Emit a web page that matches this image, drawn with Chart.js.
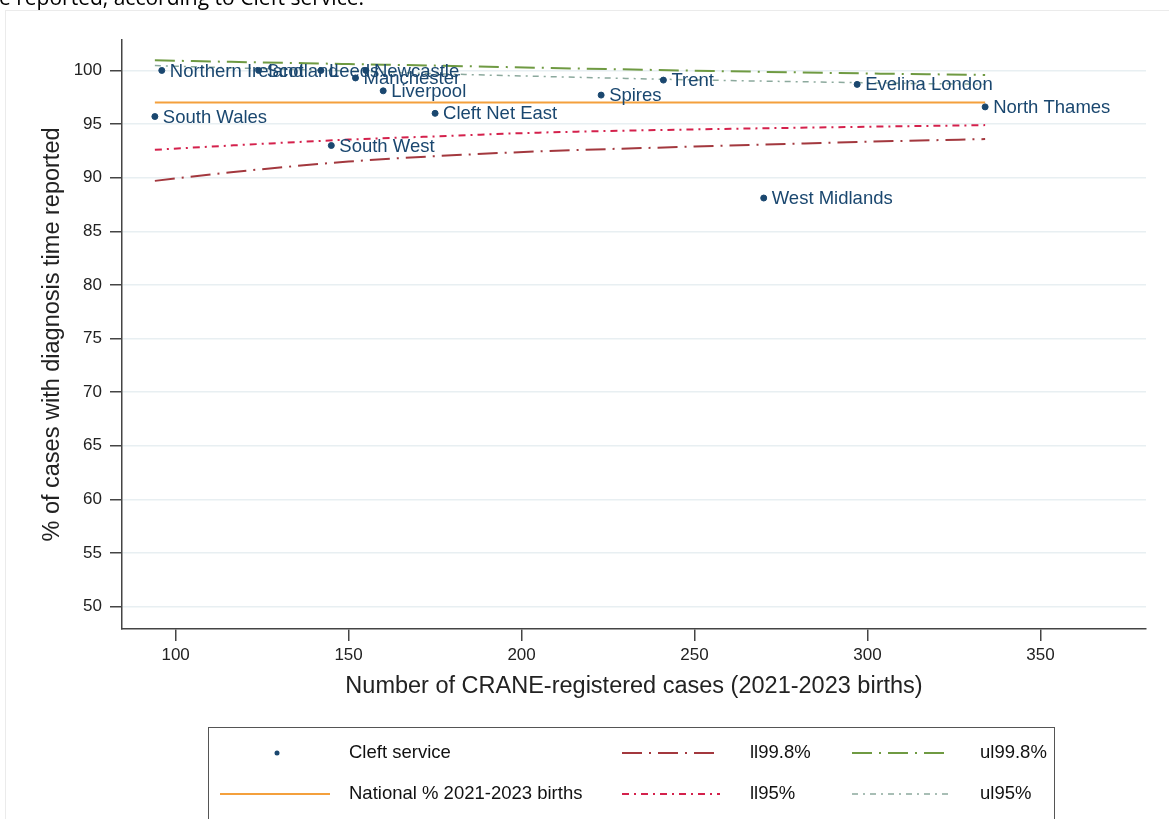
<!DOCTYPE html>
<html>
<head>
<meta charset="utf-8">
<title>Diagnosis time reported, by cleft service</title>
<script src="https://cdn.jsdelivr.net/npm/chart.js@4.4.1/dist/chart.umd.min.js"></script>
<style>
  html, body { margin: 0; padding: 0; background: #fff; overflow: hidden; }
  #wrap { position: relative; width: 1169px; height: 819px; overflow: hidden; }
  #frame { position: absolute; left: 5px; top: 10px; width: 1200px; height: 900px; border: 1px solid #ebebeb; }
  #caption { position: absolute; left: -1px; top: -17px; font: 21px "Open Sans", sans-serif; color: #000; white-space: nowrap; }
  canvas { position: absolute; left: 0; top: 0; }
</style>
</head>
<body>
<div id="wrap">
  <div id="frame"></div>
  <canvas id="funnelChart" width="1169" height="819"></canvas>
  <div id="caption">e reported, according to Cleft service.</div>
</div>
<script>
// cleft services: registered cases and % with diagnosis time reported
const services = ['Northern Ireland', 'Scotland', 'Leeds', 'Newcastle', 'Manchester', 'Liverpool',
                  'South Wales', 'Cleft Net East', 'South West', 'Spires', 'Trent',
                  'Evelina London', 'North Thames', 'West Midlands'];
const cases = [96, 124, 142, 155, 152, 160, 94, 175, 145, 223, 241, 297, 334, 270];
const pctReported = [100, 100, 100, 100, 99.3, 98.1, 95.7, 96.0, 93.0, 97.7, 99.1, 98.7, 96.6, 88.1];

// national proportion, drawn across the range of services
const nationalX = [94, 334];
const nationalPct = [97.0, 97.0];

// control limits
const limitX = [94, 116, 150, 175, 205, 250, 300, 334];
const ll998 = [89.7, 90.5, 91.5, 92.0, 92.45, 92.9, 93.35, 93.6];
const ul998 = [100.95, 100.8, 100.6, 100.45, 100.25, 99.98, 99.72, 99.58];
const ll95 = [92.6, 93.0, 93.55, 93.85, 94.2, 94.5, 94.75, 94.9];
const ul95 = [100.45, 100.25, 99.95, 99.7, 99.45, 99.12, 98.85, 98.7];

const xTicks = [100, 150, 200, 250, 300, 350];
const yTicks = [50, 55, 60, 65, 70, 75, 80, 85, 90, 95, 100];

const FONT = 'Arial, "Liberation Sans", Helvetica, sans-serif';
const navy = '#1a476f';

const toPoints = (xs, ys) => xs.map((x, i) => ({ x: x, y: ys[i] }));

function limitLine(label, ys, color, dash, width) {
    return {
        label: label,
        data: toPoints(limitX, ys),
        showLine: true,
        borderColor: color,
        borderWidth: width,
        borderDash: dash,
        pointRadius: 0,
        cubicInterpolationMode: 'monotone',
        fill: false
    };
}

const datasets = [
    {
        label: 'Cleft service',
        data: toPoints(cases, pctReported),
        backgroundColor: navy,
        borderColor: navy,
        pointRadius: 3,
        showLine: false
    },
    {
        label: 'National % 2021-2023 births',
        data: toPoints(nationalX, nationalPct),
        showLine: true,
        borderColor: '#f4a03c',
        borderWidth: 2,
        pointRadius: 0
    },
    limitLine('ll99.8%', ll998, '#a3383e', [20, 7, 2, 7], 2),
    limitLine('ul99.8%', ul998, '#6f9a42', [20, 7, 2, 7], 2),
    limitLine('ll95%', ll95, '#d4214c', [7, 5, 2, 5], 2),
    limitLine('ul95%', ul95, '#8ca99d', [6, 5, 2, 5], 1.5)
];

// service names to the right of each dot
const pointLabels = {
    id: 'pointLabels',
    afterDatasetsDraw(chart) {
        const ctx = chart.ctx;
        const meta = chart.getDatasetMeta(0);
        ctx.save();
        ctx.font = '18.5px ' + FONT;
        ctx.fillStyle = navy;
        ctx.textBaseline = 'middle';
        meta.data.forEach((pt, i) => {
            ctx.fillText(services[i], pt.x + 8, pt.y + 1);
        });
        ctx.restore();
    }
};

// Stata style legend box under the plot
const boxLegend = {
    id: 'boxLegend',
    afterDraw(chart) {
        const ctx = chart.ctx;
        const ds = chart.data.datasets;
        ctx.save();
        ctx.fillStyle = '#fff';
        ctx.fillRect(208.5, 727.5, 846, 120);
        ctx.strokeStyle = '#555';
        ctx.lineWidth = 1;
        ctx.strokeRect(208.5, 727.5, 846, 120);

        const rows = [753, 794];
        // swatch slots: [dataset index, row, x0, x1, text x]
        const slots = [
            [0, 0, 277, 277, 349],
            [2, 0, 622, 720, 750],
            [3, 0, 852, 950, 980],
            [1, 1, 220, 330, 349],
            [4, 1, 622, 720, 750],
            [5, 1, 852, 950, 980]
        ];
        ctx.font = '18.5px ' + FONT;
        ctx.textBaseline = 'middle';
        slots.forEach(([idx, row, x0, x1, tx]) => {
            const d = ds[idx];
            const y = rows[row];
            if (idx === 0) {
                ctx.fillStyle = d.backgroundColor;
                ctx.beginPath();
                ctx.arc(x0, y, 2.5, 0, Math.PI * 2);
                ctx.fill();
            } else {
                ctx.strokeStyle = d.borderColor;
                ctx.lineWidth = d.borderWidth;
                ctx.setLineDash(d.borderDash || []);
                ctx.beginPath();
                ctx.moveTo(x0, y);
                ctx.lineTo(x1, y);
                ctx.stroke();
                ctx.setLineDash([]);
            }
            ctx.fillStyle = '#111';
            ctx.fillText(d.label, tx, y);
        });
        ctx.restore();
    }
};

const ctx = document.getElementById('funnelChart').getContext('2d');
window.funnelChart = new Chart(ctx, {
    type: 'scatter',
    data: { datasets: datasets },
    options: {
        responsive: false,
        animation: false,
        events: [],
        layout: { padding: { top: 40, right: 23, bottom: 90, left: 0 } },
        plugins: { legend: { display: false }, tooltip: { enabled: false } },
        scales: {
            x: {
                type: 'linear',
                min: 84.5,
                max: 380.5,
                afterBuildTicks: s => { s.ticks = xTicks.map(v => ({ value: v })); },
                afterFit: s => { s.height = 100; },
                grid: { drawOnChartArea: false, tickLength: 12, tickColor: '#444', lineWidth: 1.5 },
                border: { display: true, color: '#444', width: 1.5 },
                ticks: { color: '#222', font: { family: FONT, size: 17 }, padding: 4, maxRotation: 0 },
                title: {
                    display: true,
                    text: 'Number of CRANE-registered cases (2021-2023 births)',
                    color: '#222',
                    font: { family: FONT, size: 23.5 },
                    padding: { top: 0, bottom: 28 }
                }
            },
            y: {
                type: 'linear',
                min: 47.9,
                max: 102.84,
                afterBuildTicks: s => { s.ticks = yTicks.map(v => ({ value: v })); },
                afterFit: s => { s.width = 122; },
                grid: { color: '#e8eff2', lineWidth: 1.5, tickLength: 12, tickColor: '#444' },
                border: { display: true, color: '#444', width: 1.5 },
                ticks: { color: '#222', font: { family: FONT, size: 17 }, padding: 8 },
                title: {
                    display: true,
                    text: '% of cases with diagnosis time reported',
                    color: '#222',
                    font: { family: FONT, size: 23.5 },
                    padding: { top: 38, bottom: 0 }
                }
            }
        }
    },
    plugins: [pointLabels, boxLegend]
});
</script>
</body>
</html>
